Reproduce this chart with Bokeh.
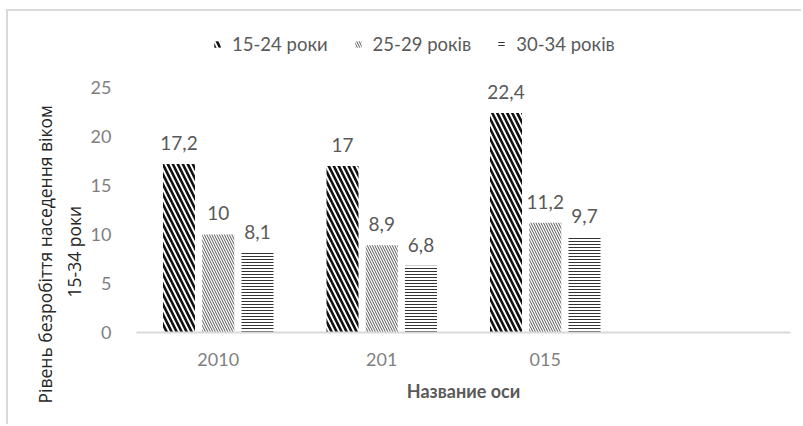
from bokeh.plotting import figure
from bokeh.models import FactorRange, Range1d, ColumnDataSource, Legend, LegendItem, Title
from bokeh.transform import dodge
from bokeh.core.properties import value
from bokeh.embed import file_html
from bokeh.resources import INLINE

categories = ["2010", "201", "015", " "]
series_names = ["15-24 роки", "25-29 років", "30-34 років"]
s1524 = [17.2, 17.0, 22.4]
s2529 = [10.0, 8.9, 11.2]
s3034 = [8.1, 6.8, 9.7]
y_ticks = [0, 5, 10, 15, 20, 25]
y_title_lines = ["Рівень безробіття наседення віком", "15-34 роки"]
x_title = "Название оси"

FONT = "Lato"

p = figure(x_range=FactorRange(*categories), y_range=Range1d(0, 32.04),
           width=795, height=415,
           min_border_left=128, min_border_right=13, min_border_top=7, min_border_bottom=94,
           output_backend="svg", toolbar_location=None)
p.styles = {"margin-left": "6px", "margin-top": "9px",
            "border-top": "2px solid #d9d9d9", "border-left": "2px solid #d9d9d9"}
p.outline_line_color = None
p.grid.visible = False

cats3 = categories[:3]
styles = [
    dict(hatch_pattern="\\", hatch_scale=10, hatch_weight=2.6, hatch_color="#111111", fill_color="#ffffff"),
    dict(hatch_pattern="\\", hatch_scale=5, hatch_weight=1.0, hatch_color="#555555", fill_color="#ffffff"),
    dict(hatch_pattern="-", hatch_scale=3, hatch_weight=1.0, hatch_color="#333333", fill_color="#ffffff"),
]
offsets = [-0.24, 0.0, 0.24]
items = []
for name, vals, st, off in zip(series_names, [s1524, s2529, s3034], styles, offsets):
    src = ColumnDataSource(dict(x=cats3, y=vals,
                                lab=[("%g" % v).replace(".", ",") for v in vals]))
    r = p.vbar(x=dodge("x", off, range=p.x_range), top="y", width=0.196, source=src,
               line_color=None, **st)
    p.text(x=dodge("x", off, range=p.x_range), y="y", text="lab", source=src,
           text_align="center", text_baseline="alphabetic", y_offset=-21,
           text_font=value(FONT), text_font_size="19px", text_color="#595959")
    items.append(LegendItem(label=name, renderers=[r]))

legend = Legend(items=items, orientation="horizontal", location=(77, 277),
                label_text_font=FONT, label_text_font_size="18.5px", label_text_color="#595959",
                glyph_width=8, glyph_height=8, spacing=26, label_standoff=11,
                border_line_color=None, background_fill_alpha=0, padding=2, margin=0)
p.add_layout(legend)

# y-axis title lines (second line nearest the axis)
for txt, off, so in [(y_title_lines[1], 35, 4), (y_title_lines[0], -71, 2)]:
    p.add_layout(Title(text=txt, align="left", offset=off, standoff=so,
                       text_font="Open Sans", text_font_size="17.5px",
                       text_font_style="normal", text_color="#262626"), "left")

p.yaxis.ticker = y_ticks
p.yaxis.axis_line_color = None
p.yaxis.major_tick_line_color = None
p.yaxis.minor_tick_line_color = None
p.yaxis.major_label_text_font = FONT
p.yaxis.major_label_text_font_size = "18px"
p.yaxis.major_label_text_color = "#7f7f7f"
p.yaxis.major_label_standoff = 19

p.xaxis.axis_line_color = "#d9d9d9"
p.xaxis.axis_line_width = 2
p.xaxis.major_tick_line_color = None
p.xaxis.minor_tick_line_color = None
p.xaxis.major_label_text_font = FONT
p.xaxis.major_label_text_font_size = "18px"
p.xaxis.major_label_text_color = "#7f7f7f"
p.xaxis.major_label_standoff = 9
p.xaxis.axis_label = x_title
p.xaxis.axis_label_text_font = FONT
p.xaxis.axis_label_text_font_style = "bold"
p.xaxis.axis_label_text_font_size = "18px"
p.xaxis.axis_label_text_color = "#595959"
p.xaxis.axis_label_standoff = 7

open("out.html", "w").write(file_html(p, INLINE))
